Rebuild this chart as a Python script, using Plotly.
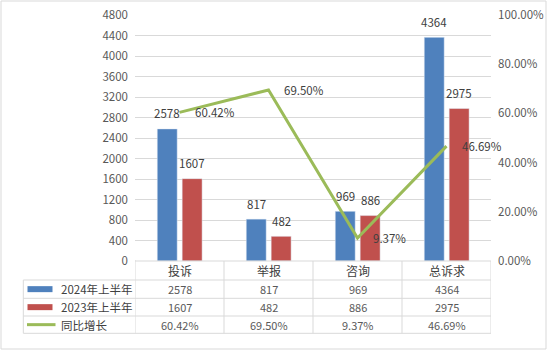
import plotly.graph_objects as go

# Complaint / report statistics, first half of 2024 vs 2023
categories = ["投诉", "举报", "咨询", "总诉求"]
series_2024 = [2578, 817, 969, 4364]
series_2023 = [1607, 482, 886, 2975]
growth_pct = [60.42, 69.50, 9.37, 46.69]
series_names = ["2024年上半年", "2023年上半年", "同比增长"]
left_ticks = list(range(0, 4801, 400))
right_ticks = [0, 20, 40, 60, 80, 100]

BLUE = "#4F81BD"
RED = "#C0504D"
GREEN = "#9BBB59"
GRID = "#D9D9D9"
FONT = "Noto Sans CJK SC"

W, H = 552, 350
ML, MR, MT, MB = 135, 61, 15, 89
PW, PH = W - ML - MR, H - MT - MB


def px_x(px):
    return (px - ML) / PW


def px_y(py):
    return (MT + PH - py) / PH


fig = go.Figure()
fig.add_trace(go.Bar(x=categories, y=series_2024, name=series_names[0],
                     marker_color=BLUE, offset=-0.25, width=0.224,
                     yaxis="y", showlegend=False))
fig.add_trace(go.Bar(x=categories, y=series_2023, name=series_names[1],
                     marker_color=RED, offset=0.03, width=0.224,
                     yaxis="y", showlegend=False))
fig.add_trace(go.Scatter(x=categories, y=growth_pct, name=series_names[2],
                         mode="lines", line=dict(color=GREEN, width=3),
                         yaxis="y2", showlegend=False))

ann = []
label_font = dict(family=FONT, size=11.5, color="#404040")
for c, v in zip(categories, series_2024):
    ann.append(dict(x=c, y=v, xref="x", yref="y", text=str(v), showarrow=False,
                    xanchor="center", yanchor="middle",
                    xshift=-12.5, yshift=15.5, font=label_font))
for c, v in zip(categories, series_2023):
    ann.append(dict(x=c, y=v, xref="x", yref="y", text=str(v), showarrow=False,
                    xanchor="center", yanchor="middle",
                    xshift=12.5, yshift=15.5, font=label_font))
for c, g in zip(categories, growth_pct):
    ann.append(dict(x=c, y=g, xref="x", yref="y2", text=f"{g:.2f}%", showarrow=False,
                    xanchor="left", yanchor="middle", xshift=13, font=label_font))

# Data table beneath the plot
table_font = dict(family=FONT, size=11, color="#595959")
row_tops = [261, 280, 298.3, 316, 333.3]
row_centers = [(a + b) / 2 for a, b in zip(row_tops[:-1], row_tops[1:])]
for c in categories:
    ann.append(dict(x=c, y=px_y(row_centers[0]), xref="x", yref="paper", text=c,
                    showarrow=False, xanchor="center", yanchor="middle",
                    font=dict(family=FONT, size=12, color="#404040")))
rows = [[str(v) for v in series_2024], [str(v) for v in series_2023],
        [f"{g:.2f}%" for g in growth_pct]]
for r, vals in enumerate(rows):
    for c, t in zip(categories, vals):
        ann.append(dict(x=c, y=px_y(row_centers[r + 1]), xref="x", yref="paper", text=t,
                        showarrow=False, xanchor="center", yanchor="middle",
                        font=table_font))
    ann.append(dict(x=px_x(59), y=px_y(row_centers[r + 1]), xref="paper", yref="paper",
                    text=series_names[r], showarrow=False, xanchor="left",
                    yanchor="middle",
                    font=dict(family=FONT, size=11.5, color="#404040")))

shapes = []
line_style = dict(color=GRID, width=1)
# outer chart border
shapes.append(dict(type="rect", xref="paper", yref="paper", x0=px_x(1), x1=px_x(546),
                   y0=px_y(349), y1=px_y(1), line=line_style))
# header row top
shapes.append(dict(type="line", xref="paper", yref="paper", x0=0, x1=1,
                   y0=px_y(261), y1=px_y(261), line=line_style))
# horizontal row lines
for yy in row_tops[1:]:
    shapes.append(dict(type="line", xref="paper", yref="paper", x0=px_x(23.3), x1=1,
                       y0=px_y(yy), y1=px_y(yy), line=line_style))
# column boundaries
for i in range(len(categories) + 1):
    shapes.append(dict(type="line", xref="x", yref="paper", x0=i - 0.5, x1=i - 0.5,
                       y0=px_y(333.3), y1=px_y(260 if i == 0 else 261), line=line_style))
shapes.append(dict(type="line", xref="paper", yref="paper", x0=px_x(23.3), x1=px_x(23.3),
                   y0=px_y(333.3), y1=px_y(280), line=line_style))
# legend keys
for r, col in enumerate([BLUE, RED]):
    yc = row_centers[r + 1]
    shapes.append(dict(type="rect", xref="paper", yref="paper", x0=px_x(27.5), x1=px_x(52.5),
                       y0=px_y(yc + 3), y1=px_y(yc - 3), fillcolor=col, line=dict(width=0)))
shapes.append(dict(type="line", xref="paper", yref="paper", x0=px_x(27), x1=px_x(55.5),
                   y0=px_y(row_centers[3]), y1=px_y(row_centers[3]),
                   line=dict(color=GREEN, width=3)))

tick_font = dict(family=FONT, size=11.5, color="#595959")
fig.update_layout(
    width=W, height=H,
    margin=dict(l=ML, r=MR, t=MT, b=MB, autoexpand=False),
    paper_bgcolor="white", plot_bgcolor="white",
    barmode="overlay",
    xaxis=dict(type="category", range=[-0.5, 3.5], showticklabels=False,
               showgrid=False, zeroline=False, showline=False, ticks="",
               automargin=False),
    yaxis=dict(range=[0, 4800], tickvals=left_ticks, showgrid=True, gridcolor=GRID,
               gridwidth=1, zeroline=False, showline=False, tickfont=tick_font,
               ticklabelstandoff=6, automargin=False),
    yaxis2=dict(range=[0, 100], tickvals=right_ticks,
                ticktext=[f"{v:.2f}%" for v in right_ticks], overlaying="y",
                side="right", showgrid=False, zeroline=False, showline=False,
                tickfont=tick_font, ticklabelstandoff=6, automargin=False),
    annotations=ann, shapes=shapes,
    showlegend=False,
)

fig.write_html("out.html")
